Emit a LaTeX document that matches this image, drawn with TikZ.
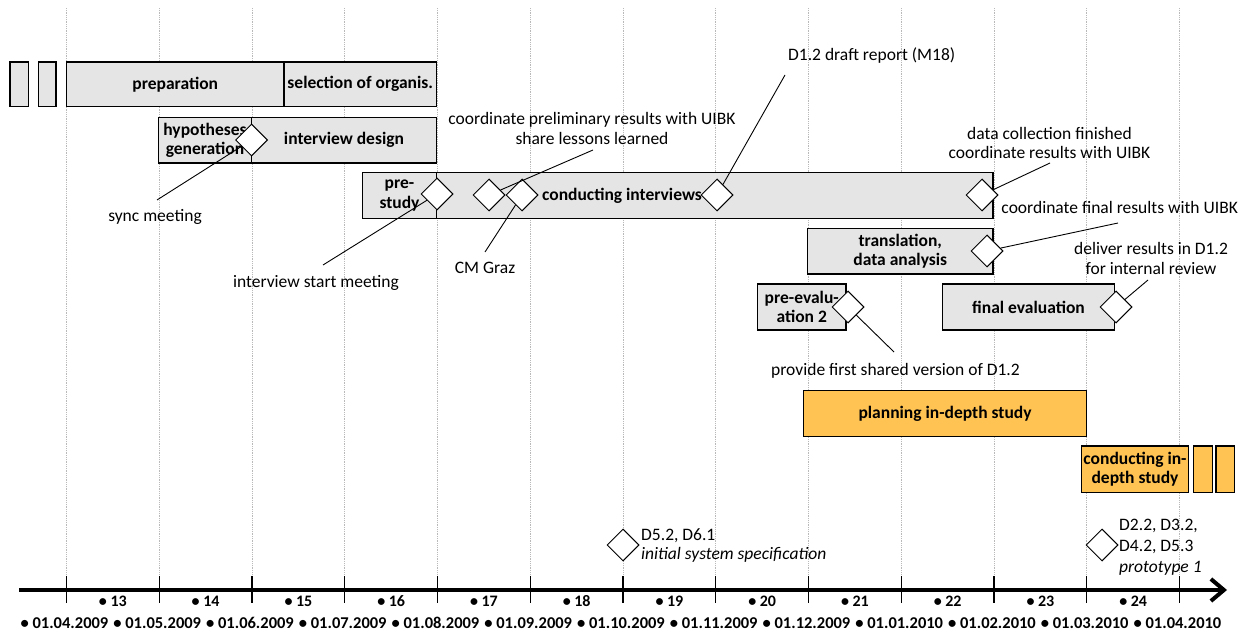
\documentclass[tikz,border=0pt]{standalone}
\usepackage{fontspec}
\setmainfont{Carlito}
\usetikzlibrary{shapes.geometric,arrows.meta}

\definecolor{boxgray}{RGB}{229,229,229}
\definecolor{taskorange}{RGB}{255,195,83}
\definecolor{gridgray}{RGB}{185,185,185}

\tikzset{
  task/.style={rectangle, draw=black, line width=1.1bp, fill=boxgray, inner sep=0pt,
    font=\bfseries\fontsize{17.5bp}{19.5bp}\selectfont, align=center},
  otask/.style={task, fill=taskorange},
  tasktext/.style={inner sep=0pt, font=\bfseries\fontsize{17.5bp}{19.5bp}\selectfont, align=center},
  milestone/.style={diamond, aspect=1, draw=black, fill=white, line width=1bp,
    minimum width=32bp, minimum height=32bp, inner sep=0pt},
  note/.style={inner sep=0pt, font=\fontsize{17.5bp}{19.5bp}\selectfont, align=center},
  lead/.style={draw=black, line width=0.9bp},
  monthlabel/.style={inner sep=0pt, font=\bfseries\fontsize{16bp}{17bp}\selectfont},
  datelabel/.style={inner sep=0pt, font=\bfseries\fontsize{16.5bp}{17bp}\selectfont},
  monthline/.style={gridgray, line width=0.8bp, densely dotted},
  size/.style 2 args={minimum width=#1bp, minimum height=#2bp},
}

\begin{document}
\begin{tikzpicture}[x=1bp, y=-1bp]
\fill[white] (0,0) rectangle (1253,634);
\useasboundingbox (0,0) rectangle (1253,634);

% month grid
\foreach \k in {0,...,12} {
  \pgfmathsetmacro\xx{66.5+92.75*\k}
  \draw[monthline] (\xx,8) -- (\xx,576);
}

% time axis
\coordinate (axisL) at (19,590);
\coordinate (axisR) at (1227,590);
\draw[line width=4bp, -{Straight Barb[length=13bp,width=22bp]}] (axisL) -- (axisR);
\foreach \k in {0,...,12} {
  \pgfmathsetmacro\xx{66.5+92.75*\k}
  \draw[line width=1.2bp] (\xx,576) -- (\xx,603);
}
\foreach \m [count=\i from 0] in {13,...,24} {
  \pgfmathsetmacro\xx{66.5+92.75*\i+46.4}
  \node[monthlabel] (month\m) at (\xx,601) {• \m};
}
\foreach \d [count=\i from 0] in {01.04.2009,01.05.2009,01.06.2009,01.07.2009,01.08.2009,01.09.2009,01.10.2009,01.11.2009,01.12.2009,01.01.2010,01.02.2010,01.03.2010,01.04.2010} {
  \pgfmathsetmacro\xx{66.5+92.75*\i-2}
  \node[datelabel] (date\i) at (\xx,623) {• \d};
}

% work packages
\node[task, size={18.3}{44.5}] (prevA) at (19.15,84.25) {};
\node[task, size={17.7}{44.5}] (prevB) at (47.15,84.25) {};
\node[task, size={217.5}{44.5}] (prep) at (175.25,84.25) {preparation};
\node[task, size={152.5}{44.5}] (sel) at (360.25,84.25) {selection of organis.};

\node[task, size={93}{45.5}] (hyp) at (205,140.25) {hypotheses\\generation};
\node[task, size={185}{45.5}] (idesign) at (344,140.25) {interview design};

\node[task, size={74}{45.6}] (prestudy) at (399.5,195.5) {pre-\\study};
\node[task, size={556.5}{45.6}] (condint) at (714.75,195.5) {};
\node[tasktext] (condintText) at (622,196) {conducting interviews};

\node[task, size={185.5}{45.5}] (transl) at (900.25,251.25) {translation,\\data analysis};
\node[task, size={88.5}{46}] (preeval) at (801.75,307) {pre-evalu-\\ation 2};
\node[task, size={171.6}{46}] (finaleval) at (1028.5,307) {final evaluation};

\node[otask, size={283.4}{46}] (planning) at (945,413.7) {planning in-depth study};
\node[otask, size={106.6}{46.3}] (indepth) at (1135,469.15) {conducting in-\\depth study};
\node[otask, size={19.4}{46.3}] (nextA) at (1203,469.15) {};
\node[otask, size={18.3}{46.3}] (nextB) at (1225.15,469.15) {};

% milestones
\node[milestone] (syncMs) at (251.5,140) {};
\node[milestone] (startMs) at (437,194) {};
\node[milestone] (prelimMs) at (489,195) {};
\node[milestone] (grazMs) at (522,195) {};
\node[milestone] (draftMs) at (717,195) {};
\node[milestone] (collectMs) at (982,195) {};
\node[milestone] (finalMs) at (987,251) {};
\node[milestone] (sharedMs) at (848,307) {};
\node[milestone] (deliverMs) at (1116,307) {};
\node[milestone] (specMs) at (623,545) {};
\node[milestone] (protoMs) at (1102,545) {};

% milestone notes
\node[note] (syncNote) at (155,217) {sync meeting};
\node[note] (startNote) at (316,283) {interview start meeting};
\node[note] (grazNote) at (485,268) {CM Graz};
\node[note] (prelimNote) at (592,128.5) {coordinate preliminary results with UIBK\\share lessons learned};
\node[note] (draftNote) at (871.7,56) {D1.2 draft report (M18)};
\node[note] (collectNote) at (1049.5,143) {data collection finished\\coordinate results with UIBK};
\node[note] (finalNote) at (1119.7,207.7) {coordinate final results with UIBK};
\node[note] (deliverNote) at (1151,258.5) {deliver results in D1.2\\for internal review};
\node[note] (sharedNote) at (895.5,370.7) {provide first shared version of D1.2};
\node[note, align=left, anchor=west] (specNote) at (641,545.5) {D5.2, D6.1\\\textit{initial system specification}};
\node[note, align=left, anchor=west, font=\fontsize{17.5bp}{21bp}\selectfont] (protoNote) at (1119,547) {D2.2, D3.2,\\D4.2, D5.3\\\textit{prototype 1}};

% leader lines
\coordinate (syncEnd) at (157,200);
\coordinate (startEnd) at (323,265);
\coordinate (grazEnd) at (485,252);
\coordinate (prelimEnd) at (593,150);
\coordinate (draftEnd) at (785,75);
\coordinate (collectEnd) at (1050,163);
\coordinate (finalEnd) at (1118,223);
\coordinate (deliverEnd) at (1148,280);
\coordinate (sharedEnd) at (894,352);
\draw[lead] (syncEnd) -- (syncMs);
\draw[lead] (startEnd) -- (startMs);
\draw[lead] (grazEnd) -- (grazMs);
\draw[lead] (prelimEnd) -- (prelimMs);
\draw[lead] (draftEnd) -- (draftMs);
\draw[lead] (collectEnd) -- (collectMs);
\draw[lead] (finalEnd) -- (finalMs);
\draw[lead] (deliverEnd) -- (deliverMs);
\draw[lead] (sharedMs) -- (sharedEnd);
\end{tikzpicture}
\end{document}
